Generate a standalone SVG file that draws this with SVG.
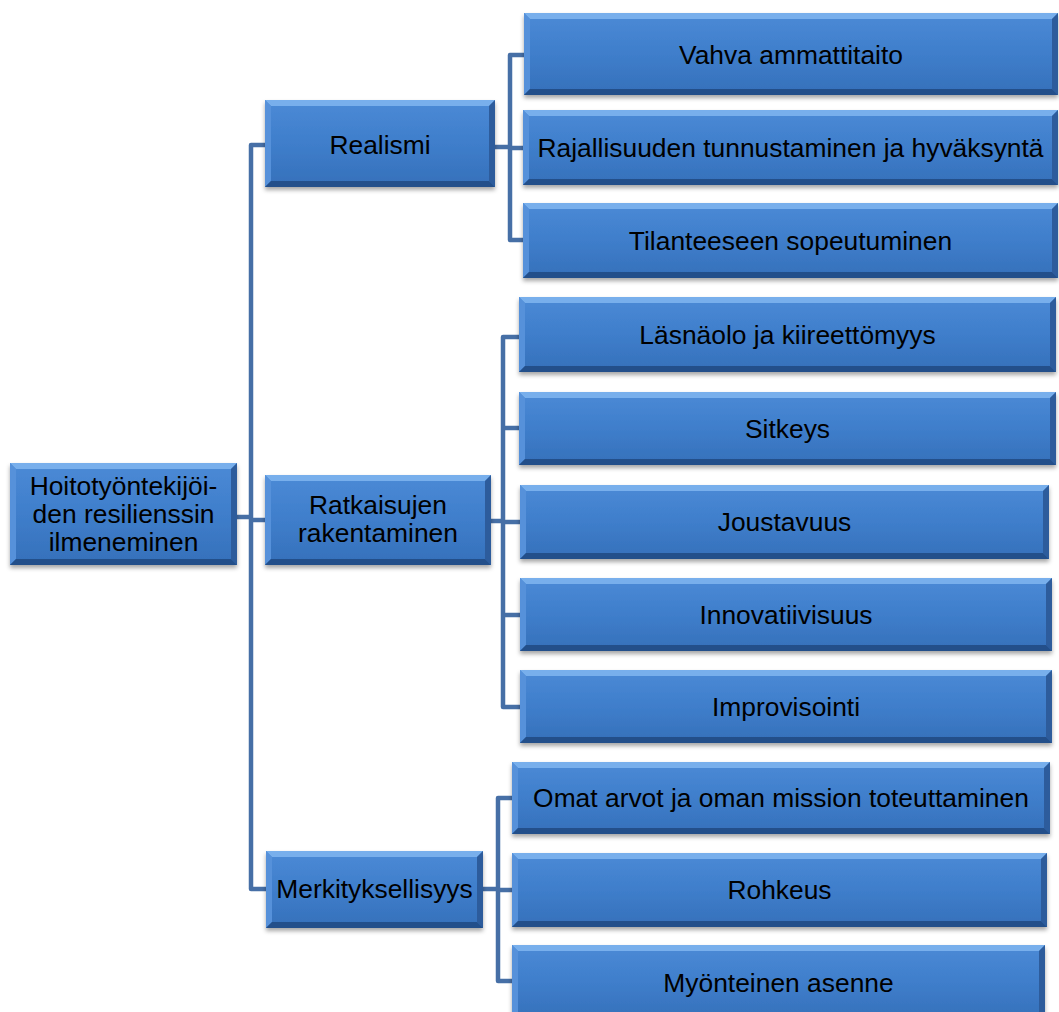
<svg xmlns="http://www.w3.org/2000/svg" width="1059" height="1012" viewBox="0 0 1059 1012">
<defs>
<linearGradient id="g" x1="0" y1="0" x2="0" y2="1">
<stop offset="0" stop-color="#4b8ad6"/>
<stop offset="0.5" stop-color="#3f7ecb"/>
<stop offset="1" stop-color="#3570ba"/>
</linearGradient>
<filter id="sh" x="-5%" y="-10%" width="110%" height="130%">
<feDropShadow dx="0" dy="3" stdDeviation="2" flood-color="#000" flood-opacity="0.35"/>
</filter>
<style>
.b{fill:url(#g);filter:url(#sh)}
.bt{fill:#78afec}
.bl{fill:#5691da}
.br{fill:#2d5c9c}
.bb{fill:#234f8a}
text{font-family:"Liberation Sans",Arial,sans-serif;font-size:26.4px;fill:#000;text-anchor:middle}
.c{fill:none;stroke:#466fa6;stroke-width:4.5;stroke-linejoin:round}
</style>
</defs>
<rect width="1059" height="1012" fill="#fff"/>
<g id="connectors">
<path class="c" d="M237,517H251"/>
<path class="c" d="M265,145H251V889H266"/>
<path class="c" d="M251,520H265"/>
<path class="c" d="M495,147H510"/>
<path class="c" d="M524,55H510V240H523"/>
<path class="c" d="M510,148H523"/>
<path class="c" d="M491,521H503"/>
<path class="c" d="M519,337H503V707H520"/>
<path class="c" d="M503,428H519M503,522H520M503,615H520"/>
<path class="c" d="M483,889H498"/>
<path class="c" d="M512,798H498V981H512"/>
<path class="c" d="M498,890H512"/>
</g>
<g id="n-root" transform="translate(10,463)">
<rect class="b" width="227" height="102"/>
<path class="bt" d="M0,0h227l-6,6h-215z"/>
<path class="bl" d="M0,0l6,6v90l-6,6z"/>
<path class="br" d="M227,0l-6,6v90l6,6z"/>
<path class="bb" d="M0,102h227l-6,-6h-215z"/>
<text x="113.5" y="32">Hoitotyöntekijöi-</text>
<text x="113.5" y="60">den resilienssin</text>
<text x="113.5" y="88">ilmeneminen</text>
</g>
<g id="n-realismi" transform="translate(265,100)">
<rect class="b" width="230" height="87"/>
<path class="bt" d="M0,0h230l-6,6h-218z"/>
<path class="bl" d="M0,0l6,6v75l-6,6z"/>
<path class="br" d="M230,0l-6,6v75l6,6z"/>
<path class="bb" d="M0,87h230l-6,-6h-218z"/>
<text x="115" y="54">Realismi</text>
</g>
<g id="n-ratkaisujen" transform="translate(265,475)">
<rect class="b" width="226" height="90"/>
<path class="bt" d="M0,0h226l-6,6h-214z"/>
<path class="bl" d="M0,0l6,6v78l-6,6z"/>
<path class="br" d="M226,0l-6,6v78l6,6z"/>
<path class="bb" d="M0,90h226l-6,-6h-214z"/>
<text x="113" y="39">Ratkaisujen</text>
<text x="113" y="67">rakentaminen</text>
</g>
<g id="n-merkityksellisyys" transform="translate(266,851)">
<rect class="b" width="217" height="77"/>
<path class="bt" d="M0,0h217l-6,6h-205z"/>
<path class="bl" d="M0,0l6,6v65l-6,6z"/>
<path class="br" d="M217,0l-6,6v65l6,6z"/>
<path class="bb" d="M0,77h217l-6,-6h-205z"/>
<text x="108.5" y="47">Merkityksellisyys</text>
</g>
<g id="n-vahva" transform="translate(524,13)">
<rect class="b" width="534" height="82"/>
<path class="bt" d="M0,0h534l-6,6h-522z"/>
<path class="bl" d="M0,0l6,6v70l-6,6z"/>
<path class="br" d="M534,0l-6,6v70l6,6z"/>
<path class="bb" d="M0,82h534l-6,-6h-522z"/>
<text x="267" y="51">Vahva ammattitaito</text>
</g>
<g id="n-rajallisuuden" transform="translate(523,110)">
<rect class="b" width="535" height="75"/>
<path class="bt" d="M0,0h535l-6,6h-523z"/>
<path class="bl" d="M0,0l6,6v63l-6,6z"/>
<path class="br" d="M535,0l-6,6v63l6,6z"/>
<path class="bb" d="M0,75h535l-6,-6h-523z"/>
<text x="267.5" y="47">Rajallisuuden tunnustaminen ja hyväksyntä</text>
</g>
<g id="n-tilanteeseen" transform="translate(523,203)">
<rect class="b" width="535" height="75"/>
<path class="bt" d="M0,0h535l-6,6h-523z"/>
<path class="bl" d="M0,0l6,6v63l-6,6z"/>
<path class="br" d="M535,0l-6,6v63l6,6z"/>
<path class="bb" d="M0,75h535l-6,-6h-523z"/>
<text x="267.5" y="47">Tilanteeseen sopeutuminen</text>
</g>
<g id="n-lasnaolo" transform="translate(519,297)">
<rect class="b" width="537" height="75"/>
<path class="bt" d="M0,0h537l-6,6h-525z"/>
<path class="bl" d="M0,0l6,6v63l-6,6z"/>
<path class="br" d="M537,0l-6,6v63l6,6z"/>
<path class="bb" d="M0,75h537l-6,-6h-525z"/>
<text x="268.5" y="47">Läsnäolo ja kiireettömyys</text>
</g>
<g id="n-sitkeys" transform="translate(519,392)">
<rect class="b" width="537" height="73"/>
<path class="bt" d="M0,0h537l-6,6h-525z"/>
<path class="bl" d="M0,0l6,6v61l-6,6z"/>
<path class="br" d="M537,0l-6,6v61l6,6z"/>
<path class="bb" d="M0,73h537l-6,-6h-525z"/>
<text x="268.5" y="46">Sitkeys</text>
</g>
<g id="n-joustavuus" transform="translate(520,485)">
<rect class="b" width="529" height="74"/>
<path class="bt" d="M0,0h529l-6,6h-517z"/>
<path class="bl" d="M0,0l6,6v62l-6,6z"/>
<path class="br" d="M529,0l-6,6v62l6,6z"/>
<path class="bb" d="M0,74h529l-6,-6h-517z"/>
<text x="264.5" y="46">Joustavuus</text>
</g>
<g id="n-innovatiivisuus" transform="translate(520,578)">
<rect class="b" width="532" height="73"/>
<path class="bt" d="M0,0h532l-6,6h-520z"/>
<path class="bl" d="M0,0l6,6v61l-6,6z"/>
<path class="br" d="M532,0l-6,6v61l6,6z"/>
<path class="bb" d="M0,73h532l-6,-6h-520z"/>
<text x="266" y="46">Innovatiivisuus</text>
</g>
<g id="n-improvisointi" transform="translate(520,670)">
<rect class="b" width="532" height="73"/>
<path class="bt" d="M0,0h532l-6,6h-520z"/>
<path class="bl" d="M0,0l6,6v61l-6,6z"/>
<path class="br" d="M532,0l-6,6v61l6,6z"/>
<path class="bb" d="M0,73h532l-6,-6h-520z"/>
<text x="266" y="46">Improvisointi</text>
</g>
<g id="n-omat" transform="translate(512,762)">
<rect class="b" width="538" height="72"/>
<path class="bt" d="M0,0h538l-6,6h-526z"/>
<path class="bl" d="M0,0l6,6v60l-6,6z"/>
<path class="br" d="M538,0l-6,6v60l6,6z"/>
<path class="bb" d="M0,72h538l-6,-6h-526z"/>
<text x="269" y="45">Omat arvot ja oman mission toteuttaminen</text>
</g>
<g id="n-rohkeus" transform="translate(512,853)">
<rect class="b" width="535" height="74"/>
<path class="bt" d="M0,0h535l-6,6h-523z"/>
<path class="bl" d="M0,0l6,6v62l-6,6z"/>
<path class="br" d="M535,0l-6,6v62l6,6z"/>
<path class="bb" d="M0,74h535l-6,-6h-523z"/>
<text x="267.5" y="46">Rohkeus</text>
</g>
<g id="n-myonteinen" transform="translate(512,945)">
<rect class="b" width="533" height="75"/>
<path class="bt" d="M0,0h533l-6,6h-521z"/>
<path class="bl" d="M0,0l6,6v63l-6,6z"/>
<path class="br" d="M533,0l-6,6v63l6,6z"/>
<path class="bb" d="M0,75h533l-6,-6h-521z"/>
<text x="266.5" y="47">Myönteinen asenne</text>
</g>
</svg>
